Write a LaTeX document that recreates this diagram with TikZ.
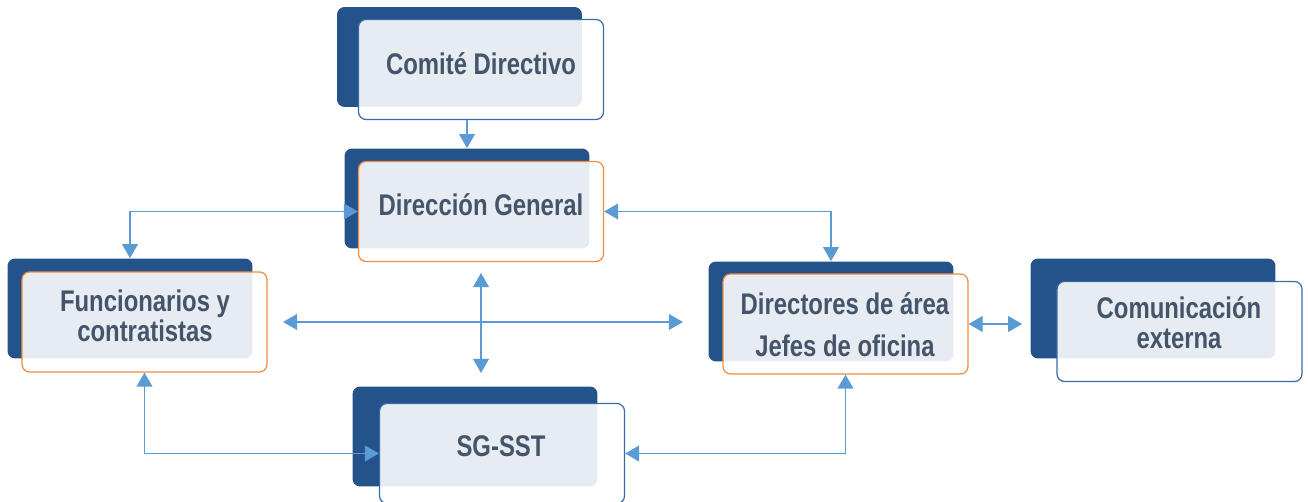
\documentclass[tikz,border=0pt]{standalone}
\usepackage{fontspec}
\newfontfamily\boxfont[FakeStretch=0.8]{Liberation Sans}
\usetikzlibrary{arrows.meta,positioning}

\definecolor{boxblue}{HTML}{24528A}
\definecolor{lineorange}{HTML}{F08C3E}
\definecolor{lineblue}{HTML}{3A6AA8}
\definecolor{arrowblue}{HTML}{5B9BD5}
\definecolor{textslate}{HTML}{44546A}

\begin{document}
\begin{tikzpicture}[
    x=0.02cm, y=-0.02cm,
    back/.style={rectangle, rounded corners=0.15cm, fill=boxblue, minimum width=4.9cm, minimum height=2cm, inner sep=0pt},
    front/.style={rectangle, rounded corners=0.15cm, fill=white, fill opacity=0.89, minimum width=4.9cm, minimum height=2cm, inner sep=0pt, line width=0.7pt},
    orangebox/.style={front, draw=lineorange},
    bluebox/.style={front, draw=lineblue},
    boxtext/.style={font=\boxfont\bfseries\fontsize{17}{17.5}\selectfont, text=textslate, align=center, anchor=base, inner sep=0pt},
    arrow/.style={draw=arrowblue, line width=0.75pt, -{Triangle[length=8pt, width=9pt]}},
    dblarrow/.style={draw=arrowblue, line width=0.75pt, {Triangle[length=8pt, width=9pt]}-{Triangle[length=8pt, width=9pt]}}
]
\useasboundingbox (0,0) rectangle (1308,502);
% Back boxes
\node[back] (comiteB) at (459.5, 57) {};
\node[back] (direcB) at (467, 198.5) {};
\node[back] (funcB) at (130, 308.5) {};
\node[back] (jefesB) at (831, 311.5) {};
\node[back] (comunB) at (1153, 308.5) {};
\node[back] (sgsstB) at (475, 436.5) {};
% Front boxes
\node[bluebox] (comite) at (481, 69.5) {};
\node[orangebox] (direc) at (481, 211.5) {};
\node[orangebox] (func) at (144.5, 322) {};
\node[orangebox] (jefes) at (845.5, 324) {};
\node[bluebox] (comun) at (1179.5, 331.5) {};
\node[bluebox] (sgsst) at (502, 453.5) {};
% Texts (base = last line)
\node[boxtext] (comiteT) at (481, 75) {Comité Directivo};
\node[boxtext] (direcT) at (481, 216) {Dirección General};
\node[boxtext] (funcT) at (145, 342) {Funcionarios y\\contratistas};
\node[boxtext] (jefesT) at (845, 357) {Directores de área\\[6.5pt]Jefes de oficina};
\node[boxtext] (comunT) at (1179, 349) {Comunicación\\externa};
\node[boxtext] (sgsstT) at (501, 457) {SG-SST};
% Free ends of the crossing arrows
\coordinate (crossL) at (283, 322);
\coordinate (crossR) at (683, 322);
\coordinate (crossT) at (481, 273);
\coordinate (crossB) at (481, 373);
% Connectors
\draw[arrow] (comite.south -| direcB.north) -- (direcB.north);
\draw[dblarrow] (direc.west) -| (funcB.north);
\draw[dblarrow] (direc.east) -| (jefesB.north);
\draw[dblarrow] (crossL) -- (crossR);
\draw[dblarrow] (crossT) -- (crossB);
\draw[dblarrow, shorten >=0.16cm] (jefes.east) -- (jefes.east -| comunB.west);
\draw[dblarrow] (func.south) |- (sgsst.west);
\draw[dblarrow] (jefes.south) |- (sgsst.east);
\end{tikzpicture}
\end{document}
